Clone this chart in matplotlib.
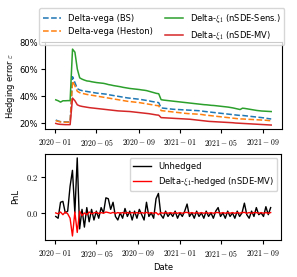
import matplotlib
matplotlib.use("Agg")
import matplotlib.pyplot as plt
import matplotlib.dates as mdates
from matplotlib.ticker import FuncFormatter, PercentFormatter
import pandas as pd

plt.rcParams["font.family"] = "DejaVu Sans"
plt.rcParams["mathtext.fontset"] = "cm"
plt.rcParams["font.size"] = 6

# weekly observation dates
dates = pd.date_range("2020-01-03", periods=91, freq="7D")

# hedging error (%) per strategy
err_bs = [22.2, 21.5, 21, 21, 20.8, 20.8, 20.8, 54.3, 50, 45.5, 44.5, 44, 43.7, 43.4, 43.1,
          42.8, 42.5, 42.2, 42, 41.8, 41.6, 41.4, 41, 40.7, 40.4, 40.1, 39.8, 39.5, 39.2,
          38.9, 38.6, 38.4, 38.2, 38, 37.8, 37.6, 37.3, 37, 36.7, 36.4, 36, 35.7, 35.4, 35.1,
          31.2, 31, 30.8, 30.6, 30.4, 30.2, 30.1, 30, 29.9, 29.8, 29.7, 29.6, 29.5, 29.4,
          29.3, 29.2, 29.1, 28.9, 28.6, 28.4, 28.2, 28, 27.8, 27.6, 27.4, 27.2, 27, 26.8,
          26.6, 26.4, 26.2, 26, 25.8, 25.6, 25.6, 25.4, 25.2, 25, 24.8, 24.6, 24.4, 24.2,
          24, 23.8, 23.5, 23.2, 23]
err_heston = [21.8, 21.2, 20.8, 20.7, 20.6, 20.6, 20.6, 51, 47.5, 43.5, 42.5, 42, 41.6, 41.2,
              40.9, 40.6, 40.3, 40, 39.7, 39.4, 39.1, 38.8, 38.5, 38.2, 37.9, 37.6, 37.3, 37,
              36.7, 36.4, 36.1, 35.9, 35.7, 35.5, 35.3, 35.1, 34.8, 34.5, 34.2, 33.9, 33.6,
              33.3, 33, 32.8, 29.2, 29, 28.8, 28.6, 28.4, 28.2, 28, 27.8, 27.6, 27.4, 27.2, 27,
              26.9, 26.8, 26.7, 26.6, 26.5, 26.3, 26, 25.8, 25.6, 25.4, 25.2, 25, 24.8, 24.6,
              24.4, 24.2, 24, 23.8, 23.6, 23.4, 23.2, 23, 23, 22.9, 22.8, 22.7, 22.6, 22.5,
              22.4, 22.3, 22.2, 22.1, 22, 21.8, 21.7]
err_sens = [37.2, 36.5, 35.5, 36.5, 36.5, 36.6, 36.6, 74.8, 72.5, 60, 53.5, 52.5, 51.8, 51.2,
            51, 50.6, 50.3, 50, 49.8, 49.6, 49.4, 49, 48.5, 48.2, 47.8, 47.5, 47.2, 46.9, 46.5,
            46.2, 45.9, 45.6, 45.4, 45.2, 45, 44.8, 44.5, 44.3, 44, 43.5, 43, 42.5, 42, 41.7,
            37.3, 37, 36.8, 36.6, 36.4, 36.2, 36, 35.8, 35.6, 35.4, 35.2, 35, 34.8, 34.6, 34.4,
            34.2, 34, 33.8, 33.6, 33.5, 33.3, 33.1, 33, 32.8, 32.6, 32.4, 32.2, 32, 31.8, 31.5,
            31.2, 30.8, 30.4, 30, 31, 30.8, 30.5, 30.2, 29.9, 29.6, 29.3, 29.1, 28.9, 28.8,
            28.7, 28.6, 28.5]
err_mv = [19.7, 19.2, 19, 18.9, 18.8, 18.8, 18.8, 38.5, 36.5, 33.5, 32.7, 32.3, 32, 31.7, 31.4,
          31.2, 31, 30.8, 30.6, 30.4, 30.2, 30, 29.8, 29.6, 29.4, 29.2, 29, 28.9, 28.8, 28.7,
          28.6, 28.5, 28.3, 28.1, 27.9, 27.7, 27.5, 27.3, 27.1, 26.9, 26.6, 26.3, 26, 25.8,
          24, 23.9, 23.8, 23.7, 23.6, 23.5, 23.4, 23.3, 23.2, 23.1, 23, 22.9, 22.8, 22.6, 22.4,
          22.2, 22, 21.8, 21.6, 21.4, 21.2, 21.1, 21, 20.9, 20.8, 20.7, 20.6, 20.5, 20.4, 20.3,
          20.2, 20, 19.9, 19.8, 19.7, 19.6, 19.5, 19.4, 19.3, 19.2, 19.1, 19, 18.9, 18.8, 18.7,
          18.6, 18.5]

# PnL
pnl_unhedged = [-0.02, -0.03, 0.06, 0.065, 0.0, 0.01, 0.15, 0.24, 0.0, 0.31, -0.09, 0.02, -0.08,
                0.03, -0.05, 0.02, -0.04, 0.01, -0.03, 0.03, 0.0, 0.085, 0.08, 0.02, 0.06, -0.02,
                -0.04, 0.0, -0.03, 0.025, -0.02, 0.01, -0.04, 0.01, -0.03, 0.02, -0.01, -0.04,
                0.06, -0.02, 0.0, -0.03, 0.08, 0.11, -0.01, -0.03, 0.01, -0.02, 0.0, -0.02, 0.01,
                -0.03, 0.0, -0.02, 0.01, 0.05, -0.02, 0.0, -0.03, 0.01, -0.02, 0.0, -0.03, 0.01,
                -0.02, 0.0, -0.03, 0.01, 0.03, -0.02, 0.0, -0.03, 0.01, -0.02, 0.0, -0.03, 0.01,
                -0.02, 0.0, 0.055, -0.01, -0.03, 0.01, -0.02, 0.03, -0.01, 0.0, -0.02, 0.035,
                -0.01, 0.03]
pnl_hedged = [0.0, -0.005, 0.005, -0.01, 0.005, -0.005, -0.03, -0.13, 0.005, -0.11, 0.01, -0.015,
              0.0, -0.01, 0.005, -0.005, 0.0, 0.003, -0.003, 0.002, -0.002, 0.005, 0.002, -0.002,
              0.003, -0.003, 0.002, -0.002, 0.002, -0.002, 0.002, -0.002, 0.002, -0.002, 0.002,
              -0.002, 0.002, -0.002, 0.003, -0.002, 0.002, -0.003, 0.002, -0.01, 0.002, -0.002,
              0.002, -0.002, 0.002, -0.002, 0.002, -0.002, 0.002, -0.002, 0.002, 0.003, -0.002,
              0.002, -0.002, 0.002, -0.002, 0.002, -0.002, 0.002, -0.002, 0.002, -0.002, 0.002,
              0.002, -0.002, 0.002, -0.002, 0.002, -0.002, 0.002, -0.002, 0.002, -0.002, 0.002,
              0.003, -0.002, 0.002, -0.002, 0.002, 0.002, -0.002, 0.002, -0.002, 0.002, -0.002,
              0.002]


def date_fmt(x, pos):
    return r"$\mathrm{" + mdates.num2date(x).strftime("%Y-%m") + "}$"


def num_fmt(x, pos):
    return r"$%.1f$" % x


fig = plt.figure(figsize=(2.97, 2.77), dpi=100)
ax1 = fig.add_axes([0.1515, 0.534, 0.798, 0.314])
ax2 = fig.add_axes([0.1515, 0.134, 0.796, 0.31])

ax1.plot(dates, [v / 100 for v in err_bs], color="tab:blue", ls="--", lw=1.1,
         label="Delta-vega (BS)")
ax1.plot(dates, [v / 100 for v in err_heston], color="tab:orange", ls="--", lw=1.1,
         label="Delta-vega (Heston)")
ax1.plot(dates, [v / 100 for v in err_sens], color="tab:green", lw=1.1,
         label=r"Delta-$\xi_1$ (nSDE-Sens.)")
ax1.plot(dates, [v / 100 for v in err_mv], color="tab:red", lw=1.1,
         label=r"Delta-$\xi_1$ (nSDE-MV)")
ax1.set_ylim(0.155, 0.80)
ax1.set_yticks([0.2, 0.4, 0.6, 0.8])
ax1.yaxis.set_major_formatter(PercentFormatter(1, decimals=0))
ax1.set_ylabel(r"Hedging error $\varepsilon$", fontsize=6, labelpad=2)

ax2.plot(dates, pnl_unhedged, color="black", lw=1.0, label="Unhedged")
ax2.plot(dates, pnl_hedged, color="red", lw=1.0, label=r"Delta-$\xi_1$-hedged (nSDE-MV)")
ax2.set_yticks([0.0, 0.2])
ax2.yaxis.set_major_formatter(FuncFormatter(num_fmt))
ax2.set_ylabel("PnL", fontsize=6, labelpad=4)
ax2.set_xlabel("Date", fontsize=6, labelpad=3)
ax2.legend(loc="upper right", fontsize=6, handlelength=2.2)

for ax in (ax1, ax2):
    ax.xaxis.set_major_locator(mdates.MonthLocator(bymonth=[1, 5, 9]))
    ax.xaxis.set_major_formatter(FuncFormatter(date_fmt))
    ax.tick_params(axis="x", labelsize=5.6, length=3, pad=3)
    ax.tick_params(axis="y", labelsize=6, length=3, pad=2)
ax1.set_xlim(ax2.get_xlim())

fig.legend(*ax1.get_legend_handles_labels(), loc="upper center", ncol=2,
           bbox_to_anchor=(0.545, 0.985), fontsize=6, handlelength=2.2,
           columnspacing=1.5)

fig.savefig("out.png", dpi=100)
